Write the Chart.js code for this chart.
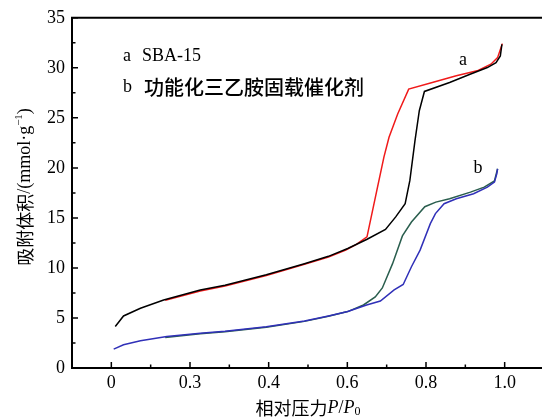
<!DOCTYPE html>
<html>
<head>
<meta charset="utf-8">
<script src="https://cdn.jsdelivr.net/npm/chart.js@4.4.1/dist/chart.umd.min.js"></script>
<style>
  html, body { margin: 0; padding: 0; background: #fff; overflow: hidden; }
  #wrap { width: 560px; height: 420px; }
</style>
</head>
<body>
<div id="wrap"><canvas id="c" width="560" height="420"></canvas></div>
<script>
// Axis ticks
const xTickValues = [0, 0.2, 0.4, 0.6, 0.8, 1.0];
const xTickLabels = ['0', '0.3', '0.4', '0.6', '0.8', '1.0'];
const xMinorTicks = [0.1, 0.3, 0.5, 0.7, 0.9];
const yTickValues = [0, 5, 10, 15, 20, 25, 30, 35];
const yMinorTicks = [2.5, 7.5, 12.5, 17.5, 22.5, 27.5, 32.5];

// a: SBA-15, adsorption branch
const aAdsP = [0.010, 0.031, 0.074, 0.133, 0.226, 0.289, 0.394, 0.491, 0.552, 0.601, 0.649, 0.697, 0.723, 0.747, 0.759, 0.772, 0.783, 0.796, 0.860, 0.912, 0.956, 0.978, 0.989, 0.993];
const aAdsV = [4.14, 5.20, 5.97, 6.80, 7.79, 8.28, 9.32, 10.42, 11.16, 11.94, 12.84, 13.84, 15.10, 16.42, 18.75, 22.73, 25.71, 27.64, 28.53, 29.36, 30.03, 30.52, 31.19, 32.35];
// a: SBA-15, desorption branch
const aDesP = [0.137, 0.226, 0.289, 0.394, 0.491, 0.552, 0.596, 0.623, 0.650, 0.675, 0.693, 0.706, 0.728, 0.756, 0.816, 0.877, 0.930, 0.965, 0.982, 0.994];
const aDesV = [6.78, 7.70, 8.20, 9.24, 10.36, 11.10, 11.78, 12.36, 13.10, 17.75, 21.07, 23.06, 25.38, 27.87, 28.53, 29.20, 29.70, 30.36, 31.02, 32.42];
// b: functionalized catalyst, adsorption branch
const bAdsP = [0.006, 0.031, 0.074, 0.141, 0.226, 0.289, 0.394, 0.491, 0.552, 0.601, 0.649, 0.684, 0.719, 0.742, 0.763, 0.785, 0.811, 0.824, 0.846, 0.877, 0.921, 0.956, 0.974, 0.980, 0.982];
const bAdsV = [1.89, 2.32, 2.72, 3.15, 3.48, 3.68, 4.12, 4.69, 5.20, 5.64, 6.30, 6.70, 7.80, 8.35, 10.12, 11.78, 14.43, 15.43, 16.42, 16.92, 17.42, 18.08, 18.58, 19.41, 19.91];
// b: functionalized catalyst, desorption branch
const bDesP = [0.137, 0.226, 0.289, 0.394, 0.491, 0.552, 0.601, 0.641, 0.671, 0.689, 0.715, 0.740, 0.763, 0.797, 0.825, 0.860, 0.913, 0.948, 0.974, 0.982];
const bDesV = [3.05, 3.42, 3.63, 4.08, 4.66, 5.18, 5.64, 6.30, 7.11, 8.00, 10.43, 13.20, 14.59, 16.12, 16.58, 16.92, 17.58, 18.08, 18.70, 19.91];

const toPoints = (xs, ys) => xs.map((x, i) => ({ x: x, y: ys[i] }));

const SERIF = "'Liberation Serif', 'DejaVu Serif', serif";
const CJK = "'Noto Sans CJK SC', 'Noto Sans', sans-serif";

// draw a row of text runs with mixed fonts
function drawRuns(ctx, runs, x, y, align) {
  let total = 0;
  runs.forEach(r => { ctx.font = r.font; r.w = ctx.measureText(r.t).width; total += r.w; });
  let cx = align === 'center' ? x - total / 2 : x;
  runs.forEach(r => {
    ctx.font = r.font;
    ctx.fillText(r.t, cx, y + (r.dy || 0));
    cx += r.w;
  });
}

const decorations = {
  id: 'decorations',
  afterDraw(chart) {
    const ctx = chart.ctx;
    const xs = chart.scales.x, ys = chart.scales.y;
    const area = chart.chartArea;
    ctx.save();
    ctx.strokeStyle = '#000';
    ctx.fillStyle = '#000';

    // top frame line
    ctx.lineWidth = 2;
    ctx.beginPath();
    ctx.moveTo(area.left - 1, area.top);
    ctx.lineTo(chart.width, area.top);
    ctx.stroke();

    // inward tick marks
    ctx.lineWidth = 1.5;
    ctx.beginPath();
    xTickValues.forEach(v => { const p = xs.getPixelForValue(v); ctx.moveTo(p, area.bottom); ctx.lineTo(p, area.bottom - 6); });
    xMinorTicks.forEach(v => { const p = xs.getPixelForValue(v); ctx.moveTo(p, area.bottom); ctx.lineTo(p, area.bottom - 3.5); });
    yTickValues.forEach(v => { const p = ys.getPixelForValue(v); ctx.moveTo(area.left, p); ctx.lineTo(area.left + 6, p); });
    yMinorTicks.forEach(v => { const p = ys.getPixelForValue(v); ctx.moveTo(area.left, p); ctx.lineTo(area.left + 3.5, p); });
    ctx.stroke();

    ctx.textBaseline = 'middle';
    ctx.textAlign = 'left';

    // legend text
    ctx.font = '18px ' + SERIF;
    ctx.fillText('a', 123, 56);
    ctx.fillText('SBA-15', 142, 56);
    ctx.fillText('b', 123, 87);
    ctx.font = '500 20px ' + CJK;
    ctx.fillText('功能化三乙胺固载催化剂', 144, 87);

    // curve labels
    ctx.textAlign = 'center';
    ctx.font = '18px ' + SERIF;
    ctx.fillText('a', 463, 60);
    ctx.fillText('b', 478, 168);

    // x axis title
    ctx.textAlign = 'left';
    drawRuns(ctx, [
      { t: '相对压力', font: '18px ' + CJK },
      { t: 'P', font: 'italic 18px ' + SERIF },
      { t: '/', font: '18px ' + SERIF },
      { t: 'P', font: 'italic 18px ' + SERIF },
      { t: '0', font: '12px ' + SERIF, dy: 4 }
    ], (area.left + area.right) / 2, 408, 'center');

    // y axis title
    ctx.translate(25, 187);
    ctx.rotate(-Math.PI / 2);
    drawRuns(ctx, [
      { t: '吸附体积', font: '18px ' + CJK },
      { t: '/(mmol·g', font: '18px ' + SERIF },
      { t: '−1', font: '11px ' + SERIF, dy: -6 },
      { t: ')', font: '18px ' + SERIF }
    ], 0, 0, 'center');

    ctx.restore();
  }
};

const line = (label, pts, color) => ({
  label: label,
  data: pts,
  borderColor: color,
  borderWidth: 1.5,
  pointRadius: 0,
  tension: 0,
  fill: false
});

new Chart(document.getElementById('c'), {
  type: 'line',
  data: {
    datasets: [
      line('a 吸附', toPoints(aAdsP, aAdsV), '#000000'),
      line('a 脱附', toPoints(aDesP, aDesV), '#f01a1a'),
      line('b 吸附', toPoints(bAdsP, bAdsV), '#3030b8'),
      line('b 脱附', toPoints(bDesP, bDesV), '#2a5e4e')
    ]
  },
  options: {
    responsive: false,
    animation: false,
    devicePixelRatio: 1,
    layout: { padding: { top: 17, right: 16, left: 0, bottom: 0 } },
    plugins: { legend: { display: false }, tooltip: { enabled: false } },
    scales: {
      x: {
        type: 'linear',
        min: -0.1,
        max: 1.1,
        afterFit(scale) { scale.height = 52; },
        afterBuildTicks(scale) { scale.ticks = xTickValues.map(v => ({ value: v })); },
        grid: { display: false, drawTicks: false },
        border: { display: true, color: '#000', width: 2 },
        ticks: {
          padding: 4,
          color: '#000',
          font: { family: SERIF, size: 18 },
          maxRotation: 0,
          autoSkip: false,
          callback: (v) => {
            const i = xTickValues.findIndex(t => Math.abs(t - v) < 1e-9);
            return i >= 0 ? xTickLabels[i] : '';
          }
        }
      },
      y: {
        type: 'linear',
        min: 0,
        max: 35,
        afterFit(scale) { scale.width = 72; },
        afterBuildTicks(scale) { scale.ticks = yTickValues.map(v => ({ value: v })); },
        grid: { display: false, drawTicks: false },
        border: { display: true, color: '#000', width: 2 },
        ticks: {
          padding: 7,
          color: '#000',
          font: { family: SERIF, size: 18 },
          autoSkip: false,
          callback: (v) => String(v)
        }
      }
    }
  },
  plugins: [decorations]
});
</script>
</body>
</html>
